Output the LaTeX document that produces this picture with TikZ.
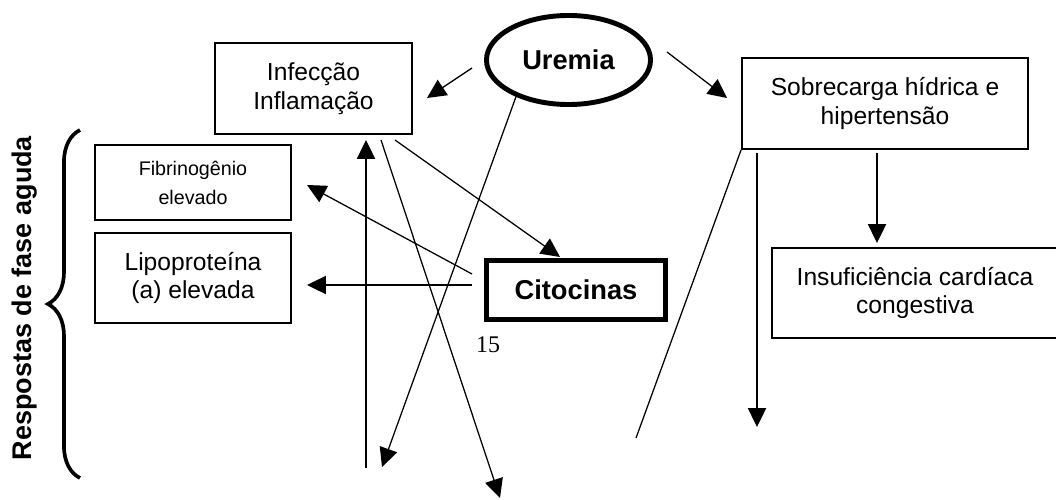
\documentclass[tikz,border=0pt]{standalone}
\usepackage{fontspec}
\setmainfont{Liberation Sans}
\newfontfamily\pagefont{Liberation Serif}
\usetikzlibrary{arrows.meta,shapes.geometric,decorations.pathreplacing}

\begin{document}
\begin{tikzpicture}[
  x=0.025cm,y=-0.025cm,
  font=\fontsize{17.5}{20.3}\selectfont,
  box/.style={draw,line width=1.3pt,align=center,inner sep=0pt},
  hub/.style={draw,line width=3.5pt,inner sep=0pt,
              font=\fontsize{19.4}{23}\selectfont\bfseries},
  flow/.style={-{Triangle[length=13.5pt,width=13pt]},line width=0.9pt},
  bare/.style={line width=0.9pt}]

\useasboundingbox (0,0) rectangle (1056,499);

% ---- nodes ------------------------------------------------------------
\node[hub,ellipse,minimum width=4.1cm,minimum height=2.225cm] (ure) at (568.5,60) {Uremia};
\node[box,minimum width=4.925cm,minimum height=2.275cm] (inf) at (313.5,88.5)
  {Infecção\\Inflamação};
\node[box,minimum width=7.15cm,minimum height=2.275cm] (sob) at (885,103.5)
  {Sobrecarga hídrica e\\hipertensão};
\node[box,minimum width=4.9cm,minimum height=1.875cm,
      font=\fontsize{14}{20.6}\selectfont] (fib) at (193,182.5)
  {Fibrinogênio\\elevado};
\node[box,minimum width=4.9cm,minimum height=2.25cm] (lip) at (193,278)
  {Lipoproteína\\(a) elevada};
\node[hub,rectangle,minimum width=4.475cm,minimum height=1.475cm] (cit) at (576,290) {Citocinas};
\node[box,minimum width=7.15cm,minimum height=2.25cm] (icc) at (915,293)
  {Insuficiência cardíaca\\congestiva};
\node[font=\pagefont\fontsize{17}{20}\selectfont] (pg) at (488,345) {15};
\node[rotate=90,font=\fontsize{19.2}{23}\selectfont\bfseries] (fase) at (25,298)
  {Respostas de fase aguda};

% ---- free ends --------------------------------------------------------
\coordinate (ureL)  at (472,68);   \coordinate (infR)  at (427,98);
\coordinate (ureR)  at (667,52);   \coordinate (sobL)  at (727,98);
\coordinate (infB)  at (395,140);  \coordinate (citT)  at (560,257);
\coordinate (citL1) at (472,274);  \coordinate (fibR)  at (307,185);
\coordinate (citL2) at (472,285);  \coordinate (lipR)  at (307,285);
\coordinate (upLo)  at (366,468);  \coordinate (infB2) at (366,140);
\coordinate (ureLo) at (382,467);
\coordinate (infB3) at (381,140);  \coordinate (infLo) at (500,498);
\coordinate (sobB1) at (877,153);  \coordinate (iccT)  at (877,243);
\coordinate (sobB2) at (757,153);  \coordinate (sobLo) at (757,427);
\coordinate (sobX)  at (636,438);
\coordinate (brBot) at (80,478);   \coordinate (brTop) at (80,130);

% ---- edges ------------------------------------------------------------
\draw[flow] (ureL) -- (infR);
\draw[flow] (ureR) -- (sobL);
\draw[flow] (infB) -- (citT);
\draw[flow] (citL1) -- (fibR);
\draw[flow] (citL2) -- (lipR);
\draw[flow] (upLo) -- (infB2);
\draw[flow] (ure.215) -- (ureLo);
\draw[flow] (infB3) -- (infLo);
\draw[flow] (sobB1) -- (iccT);
\draw[flow] (sobB2) -- (sobLo);
\draw[bare] (sob.south west) -- (sobX);
\draw[decorate,decoration={brace,amplitude=22.8pt},line width=2.6pt] (brBot) -- (brTop);
\end{tikzpicture}
\end{document}
